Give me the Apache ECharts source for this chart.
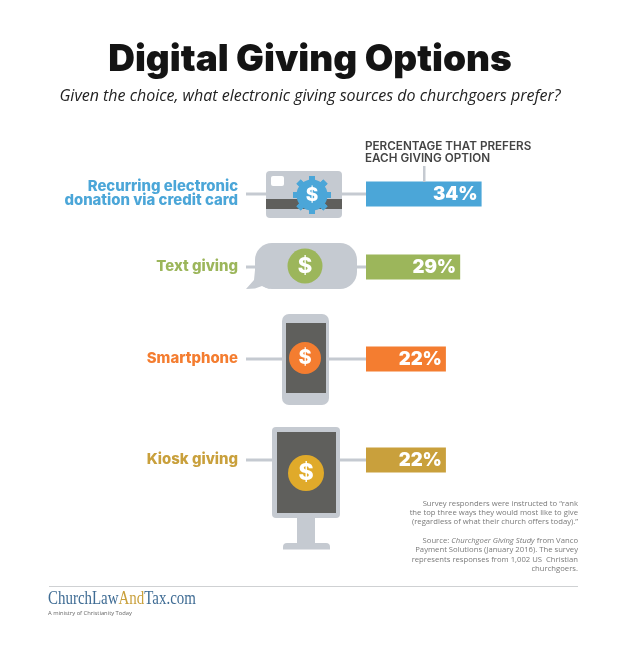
<!DOCTYPE html>
<html>
<head>
<meta charset="utf-8">
<style>
  html, body { margin: 0; padding: 0; background: #fff; }
  #main { width: 620px; height: 647px; }
</style>
<script src="https://cdn.jsdelivr.net/npm/echarts@6/dist/echarts.min.js"></script>
</head>
<body>
<div id="main"></div>
<script>
const categories = ['Recurring electronic\ndonation via credit card', 'Text giving', 'Smartphone', 'Kiosk giving'];
// printed percentages
const shares = [34, 29, 22, 22];
// bar lengths as drawn in the picture, they do not scale exactly with the printed numbers
const barLengths = [34, 27.7, 23.5, 23.5];
const barColors = ['#4ba6d8', '#9cb65b', '#f47d30', '#c9a03c'];
const badgeColors = ['#4ba6d8', '#9cb65b', '#f47d30', '#e0aa2a'];
const noteLines = [
    'Survey responders were instructed to “rank',
    'the top three ways they would most like to give',
    '(regardless of what their church offers today).”',
    '',
    'Source: {i|Churchgoer Giving Study} from Vanco',
    'Payment Solutions (January 2016). The survey',
    'represents responses from 1,002 US  Christian',
    'churchgoers.'
];

const GRAY = '#c5cad1';
const SCREEN = '#5f5f5c';
const HEAD = 'Inter, "Noto Sans", sans-serif';
const BODY = '"Open Sans", "Noto Sans", sans-serif';

// row layout: rows are not evenly spaced in the original
const rowY = [194, 267, 359, 460];
const barLeft = 366;
const barH = 25;
const pxPerUnit = 3.4;
const axisMax = 40;

const grids = [], xAxes = [], yAxes = [], series = [];
categories.forEach(function (name, i) {
    grids.push({ left: barLeft, top: rowY[i] - barH / 2, width: axisMax * pxPerUnit, height: barH });
    xAxes.push({ type: 'value', gridIndex: i, min: 0, max: axisMax, show: false });
    yAxes.push({
        type: 'category', gridIndex: i, data: [name],
        axisLine: { show: false }, axisTick: { show: false },
        axisLabel: {
            margin: 128, align: 'right', color: barColors[i],
            fontFamily: HEAD, fontWeight: 800, fontSize: 14.9, lineHeight: 14
        }
    });
    series.push({
        type: 'bar', xAxisIndex: i, yAxisIndex: i, data: [barLengths[i]],
        barWidth: '100%', silent: true,
        itemStyle: { color: barColors[i] },
        label: {
            show: true, position: 'insideRight', distance: 4,
            formatter: shares[i] + '%', color: '#fff',
            fontFamily: HEAD, fontWeight: 900, fontSize: 18.5
        }
    });
});

function box(x, y, w, h, fill, r, z) {
    return { type: 'rect', z: z || 10, shape: { x: x, y: y, width: w, height: h, r: r || 0 }, style: { fill: fill }, silent: true };
}
function badge(cx, cy, r, fill) {
    return [
        { type: 'circle', z: 12, shape: { cx: cx, cy: cy, r: r }, style: { fill: fill }, silent: true },
        { type: 'text', z: 13, x: cx, y: cy, silent: true, style: {
            text: '$', fill: '#fff', align: 'center', verticalAlign: 'middle',
            font: '800 ' + Math.round(r * 1.25) + 'px ' + HEAD } }
    ];
}

const icons = [];
// leader lines
[[246, 266, 342], [246, 255, 357], [246, 282, 329], [246, 272, 340]].forEach(function (l, i) {
    icons.push(box(l[0], rowY[i] - 1.5, l[1] - l[0], 3, GRAY));
    icons.push(box(l[2], rowY[i] - 1.5, barLeft - l[2], 3, GRAY));
});
icons.push(box(423, 166, 2.5, 16, GRAY));

// credit card
icons.push(box(266, 171, 76, 47, GRAY, 4));
icons.push(box(266, 199, 76, 10, SCREEN, 0, 11));
icons.push(box(271, 176, 13, 10, '#fff', 2, 11));
for (let a = 0; a < 8; a++) {
    icons.push({
        type: 'rect', z: 12, silent: true, x: 312, y: 195, rotation: a * Math.PI / 4,
        shape: { x: -3, y: -19, width: 6, height: 38 }, style: { fill: badgeColors[0] }
    });
}
icons.push.apply(icons, badge(312, 195, 15.5, badgeColors[0]));

// speech bubble
icons.push(box(255, 243, 102, 46, GRAY, 17));
icons.push({
    type: 'polygon', z: 10, silent: true,
    shape: { points: [[255, 270], [254, 280], [246, 289], [255, 288.5], [262, 286], [270, 289]] },
    style: { fill: GRAY }
});
icons.push.apply(icons, badge(305, 266, 17.5, badgeColors[1]));

// phone
icons.push(box(282, 314, 47, 91, GRAY, 7));
icons.push(box(286, 323, 40, 70, SCREEN, 0, 11));
icons.push.apply(icons, badge(305, 358, 16, badgeColors[2]));

// kiosk
icons.push(box(272, 427, 68, 91, GRAY, 4));
icons.push(box(277, 432, 59, 81, SCREEN, 0, 11));
icons.push(box(297, 517, 18, 28, GRAY));
icons.push(box(283, 543, 47, 6.5, GRAY, [4, 4, 0, 0]));
icons.push.apply(icons, badge(306, 473, 18, badgeColors[3]));

const texts = [
    { type: 'text', x: barLeft - 1, y: 140, silent: true, style: {
        text: 'PERCENTAGE THAT PREFERS\nEACH GIVING OPTION', fill: '#444',
        font: '600 11.7px ' + HEAD, lineHeight: 12 } },
    { type: 'text', x: 578, y: 499, silent: true, style: {
        text: noteLines.join('\n'), align: 'right', fill: '#7a7a7a',
        font: '400 7.7px ' + BODY, lineHeight: 9.3,
        rich: { i: { font: 'italic 400 7.7px ' + BODY, fill: '#7a7a7a', lineHeight: 9.3 } } } },
    box(49, 586, 529, 1, '#cfd1d3'),
    { type: 'text', x: 48, y: 590, scaleX: 0.83, silent: true, style: {
        text: '{a|ChurchLaw}{b|And}{a|Tax.com}',
        rich: {
            a: { fill: '#3f6c94', font: '18px "Liberation Serif", serif' },
            b: { fill: '#c9a03c', font: '18px "Liberation Serif", serif' }
        } } },
    { type: 'text', x: 48, y: 610, silent: true, style: {
        text: 'A ministry of Christianity Today', fill: '#666', font: '400 5.8px ' + BODY } }
];

const chart = echarts.init(document.getElementById('main'), null, { renderer: 'canvas' });
chart.setOption({
    animation: false,
    backgroundColor: '#fff',
    title: {
        text: 'Digital Giving Options',
        subtext: 'Given the choice, what electronic giving sources do churchgoers prefer?',
        left: 'center', top: 36, itemGap: 10,
        textStyle: { color: '#141414', fontFamily: HEAD, fontWeight: 900, fontSize: 37 },
        subtextStyle: { color: '#222', fontFamily: BODY, fontStyle: 'italic', fontSize: 16 }
    },
    grid: grids,
    xAxis: xAxes,
    yAxis: yAxes,
    series: series,
    graphic: { elements: icons.concat(texts) }
});
</script>
</body>
</html>
